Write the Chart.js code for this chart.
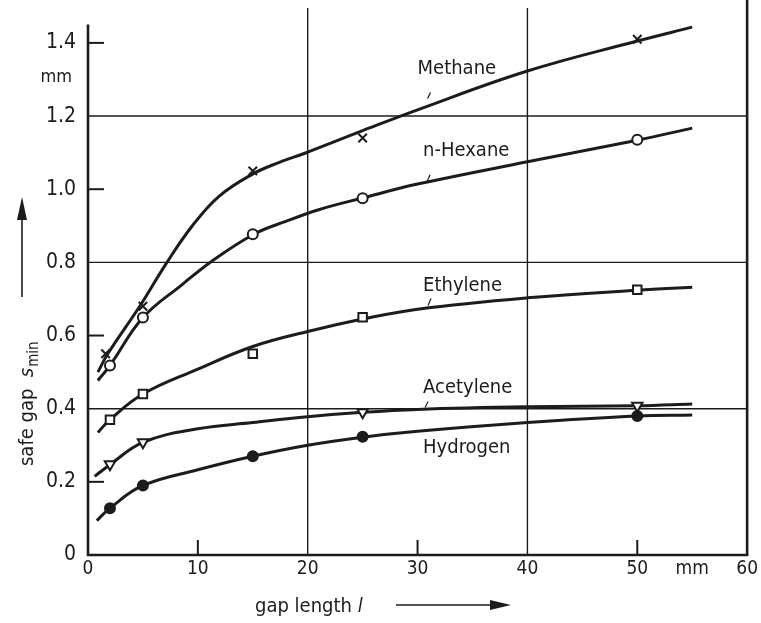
<!DOCTYPE html>
<html>
<head>
<meta charset="utf-8">
<script src="https://cdn.jsdelivr.net/npm/chart.js@4"></script>
<style>
  html, body { margin: 0; padding: 0; background: #fff; }
  canvas { display: block; }
</style>
</head>
<body>
<canvas id="myChart" width="761" height="623"></canvas>
<script>
// curves: [gap length mm, safe gap mm]
const methaneLine = [[0.9, 0.50], [1.8, 0.55], [4.8, 0.684], [7.1, 0.796], [9.5, 0.90], [11.9, 0.98], [14.9, 1.04], [17.3, 1.072], [19.8, 1.099], [25, 1.16], [30, 1.217], [40, 1.323], [50, 1.405], [55, 1.443]];
const hexaneLine = [[0.9, 0.477], [2, 0.518], [5, 0.649], [8.6, 0.74], [11.3, 0.804], [15.1, 0.877], [18, 0.912], [21, 0.944], [25, 0.976], [30, 1.014], [40, 1.075], [50, 1.134], [55, 1.167]];
const ethyleneLine = [[0.9, 0.335], [2, 0.37], [5, 0.44], [10, 0.508], [15, 0.57], [20, 0.611], [25, 0.645], [30, 0.672], [40, 0.703], [50, 0.724], [55, 0.732]];
const acetyleneLine = [[0.6, 0.215], [2, 0.247], [5, 0.308], [10, 0.345], [15, 0.362], [20, 0.378], [25, 0.39], [30, 0.398], [40, 0.405], [50, 0.408], [55, 0.413]];
const hydrogenLine = [[0.8, 0.094], [2, 0.128], [5, 0.19], [10, 0.233], [15, 0.27], [20, 0.30], [25, 0.322], [30, 0.338], [40, 0.362], [50, 0.38], [55, 0.383]];

// measured points
const methanePts = [[1.6, 0.55], [5, 0.68], [15, 1.05], [25, 1.14], [50, 1.41]];
const hexanePts = [[2, 0.518], [5, 0.649], [15, 0.877], [25, 0.975], [50, 1.135]];
const ethylenePts = [[2, 0.37], [5, 0.44], [15, 0.55], [25, 0.65], [50, 0.725]];
const acetylenePts = [[2, 0.248], [5, 0.308], [25, 0.39], [50, 0.408]];
const hydrogenPts = [[2, 0.128], [5, 0.19], [15, 0.27], [25, 0.323], [50, 0.38]];

const gasNames = ['Methane', 'n-Hexane', 'Ethylene', 'Acetylene', 'Hydrogen'];

const xTicks = [0, 10, 20, 30, 40, 50, 55, 60];
const xTickLabels = ['0', '10', '20', '30', '40', '50', 'mm', '60'];
const yTicks = [0, 0.2, 0.4, 0.6, 0.8, 1.0, 1.2, 1.4];
const yTickLabels = ['0', '0.2', '0.4', '0.6', '0.8', '1.0', '1.2', '1.4'];

const FONT = "'DejaVu Sans Condensed', 'Liberation Sans Narrow', sans-serif";
const INK = '#1c1c1c';

const toXY = arr => arr.map(p => ({ x: p[0], y: p[1] }));

function curve(data) {
    return {
        type: 'line', data: toXY(data), borderColor: INK, borderWidth: 3,
        pointRadius: 0, tension: 0.4, order: 2, clip: false
    };
}
function marks(data, style, fill, extra) {
    return Object.assign({
        type: 'line', data: toXY(data), showLine: false, pointStyle: style,
        pointRadius: 5, pointBorderWidth: 2, pointBorderColor: INK,
        pointBackgroundColor: fill, order: 1, clip: false
    }, extra || {});
}

// labels placed left-x / middle-y in data units
const labelSpots = { 'Methane': [30, 1.33], 'n-Hexane': [30.5, 1.105], 'Ethylene': [30.5, 0.737], 'Acetylene': [30.5, 0.458], 'Hydrogen': [30.5, 0.292] };
// tiny leader strokes from labels down to curves (px offsets from label start)
const leaders = { 'Methane': [13, 24, 10, 30], 'n-Hexane': [7, 24, 4, 31], 'Ethylene': [8, 13, 5, 20], 'Acetylene': [5, 14, 2, 20] };

function line(ctx, x1, y1, x2, y2) {
    ctx.beginPath(); ctx.moveTo(x1, y1); ctx.lineTo(x2, y2); ctx.stroke();
}

const paper = {
    id: 'paper',
    beforeDraw(chart) {
        const ctx = chart.ctx;
        ctx.save();
        ctx.fillStyle = '#fff';
        ctx.fillRect(0, 0, chart.width, chart.height);
        ctx.restore();
    },
    beforeDatasetsDraw(chart) {
        const { ctx, scales: { x, y } } = chart;
        ctx.save();
        ctx.strokeStyle = INK;
        ctx.lineCap = 'butt';
        // grid
        ctx.lineWidth = 1.4;
        [0.4, 0.8, 1.2].forEach(v => { const py = y.getPixelForValue(v); line(ctx, x.left, py, x.right, py); });
        [20, 40].forEach(v => { const px = x.getPixelForValue(v); line(ctx, px, y.bottom, px, 8); });
        // short ticks
        ctx.lineWidth = 2;
        [10, 30, 50].forEach(v => { const px = x.getPixelForValue(v); line(ctx, px, y.bottom, px, y.bottom - 15); });
        [0.2, 0.6, 1.0, 1.4].forEach(v => { const py = y.getPixelForValue(v); line(ctx, x.left, py, x.left + 16, py); });
        // frame
        ctx.lineWidth = 2.6;
        line(ctx, x.left, y.top, x.left, y.bottom + 1);
        line(ctx, x.left - 1, y.bottom, x.right + 1, y.bottom);
        line(ctx, x.right, y.bottom + 1, x.right, 0);
        ctx.restore();
    },
    afterDatasetsDraw(chart) {
        const { ctx, scales: { x, y } } = chart;
        ctx.save();
        ctx.fillStyle = INK;
        ctx.strokeStyle = INK;
        ctx.textBaseline = 'middle';
        ctx.font = '20px ' + FONT;
        gasNames.forEach(n => {
            const [vx, vy] = labelSpots[n];
            const px = x.getPixelForValue(vx), py = y.getPixelForValue(vy);
            ctx.fillText(n, px, py);
            const l = leaders[n];
            if (l) { ctx.lineWidth = 1.2; line(ctx, px + l[0], py + l[1], px + l[2], py + l[3]); }
        });
        // units on y axis
        ctx.font = '18px ' + FONT;
        ctx.textAlign = 'right';
        ctx.fillText('mm', 72, y.getPixelForValue(1.4) + 34);

        // x title with arrow
        ctx.textAlign = 'left';
        ctx.font = '20px ' + FONT;
        ctx.fillText('gap length ', 255, 607);
        let w = ctx.measureText('gap length ').width;
        ctx.font = 'italic 20px ' + FONT;
        ctx.fillText('l', 255 + w, 607);
        ctx.lineWidth = 1.6;
        line(ctx, 396, 605, 495, 605);
        ctx.beginPath(); ctx.moveTo(511, 605); ctx.lineTo(490, 600); ctx.lineTo(490, 610); ctx.closePath(); ctx.fill();

        // y title with arrow
        ctx.save();
        ctx.translate(28, 466);
        ctx.rotate(-Math.PI / 2);
        ctx.font = '20px ' + FONT;
        ctx.fillText('safe gap  ', 0, 0);
        w = ctx.measureText('safe gap  ').width;
        ctx.font = 'italic 20px ' + FONT;
        ctx.fillText('s', w, 0);
        const ws = ctx.measureText('s').width;
        ctx.font = '15px ' + FONT;
        ctx.fillText('min', w + ws + 1, 6);
        ctx.restore();
        ctx.lineWidth = 1.6;
        line(ctx, 22, 297, 22, 215);
        ctx.beginPath(); ctx.moveTo(22, 197); ctx.lineTo(17, 220); ctx.lineTo(27, 220); ctx.closePath(); ctx.fill();
        ctx.restore();
    }
};

new Chart(document.getElementById('myChart'), {
    type: 'line',
    data: {
        datasets: [
            curve(methaneLine), curve(hexaneLine), curve(ethyleneLine), curve(acetyleneLine), curve(hydrogenLine),
            marks(methanePts, 'crossRot', INK, { pointRadius: 6 }),
            marks(hexanePts, 'circle', '#fff'),
            marks(ethylenePts, 'rect', '#fff', { pointRadius: 6 }),
            marks(acetylenePts, 'triangle', '#fff', { pointRadius: 6, pointRotation: 180 }),
            marks(hydrogenPts, 'circle', INK)
        ]
    },
    options: {
        responsive: false,
        animation: false,
        devicePixelRatio: 1,
        layout: { padding: { top: 14, right: 9, left: 0, bottom: 0 } },
        plugins: { legend: { display: false }, tooltip: { enabled: false } },
        scales: {
            x: {
                type: 'linear', min: 0, max: 60,
                grid: { display: false, drawTicks: false },
                border: { display: false },
                afterBuildTicks: s => { s.ticks = xTicks.map(v => ({ value: v })); },
                afterFit: s => { s.height = 68; },
                ticks: {
                    autoSkip: false, maxRotation: 0, padding: 3, color: INK,
                    font: { family: FONT, size: 19 },
                    callback: v => xTickLabels[xTicks.indexOf(v)]
                }
            },
            y: {
                type: 'linear', min: 0, max: 1.45,
                grid: { display: false, drawTicks: false },
                border: { display: false },
                afterBuildTicks: s => { s.ticks = yTicks.map(v => ({ value: v })); },
                afterFit: s => { s.width = 88; },
                ticks: {
                    autoSkip: false, padding: 12, color: INK,
                    font: { family: FONT, size: 21 },
                    callback: v => yTickLabels[yTicks.findIndex(t => Math.abs(t - v) < 1e-6)]
                }
            }
        }
    },
    plugins: [paper]
});
</script>
</body>
</html>
